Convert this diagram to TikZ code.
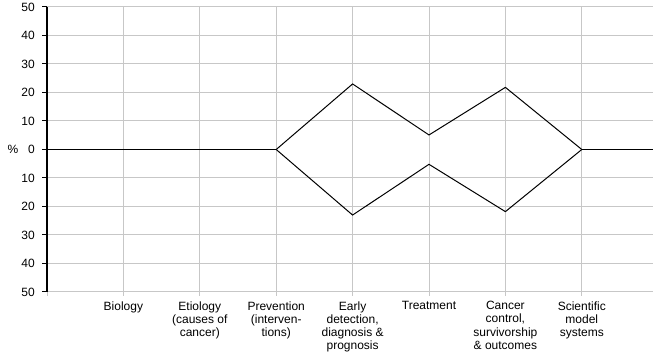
\documentclass[tikz,border=0pt]{standalone}
\usepackage{fontspec}
\setmainfont{Liberation Sans}

\begin{document}
\begin{tikzpicture}[x=76.4pt, y=2.85pt]

  \tikzset{GridLine/.style = {
  draw = black!22,
  line width = 1pt}}
  \tikzset{AxisLine/.style = {draw = black, line width = 1.2pt}}
  \tikzset{ZeroLine/.style = {draw = black, line width = 1.7pt}}
  \tikzset{DataLine/.style = {draw = black, line width = 1pt}}
  \tikzset{TickLabel/.style = {
  font = \fontsize{12}{13.3}\selectfont,
  inner sep = 0pt}}
  \tikzset{CatLabel/.style = {TickLabel, anchor = north, align = center}}

  \useasboundingbox (-0.6152,-72.456) rectangle (7.932,52.456);

  \begin{scope}
    \foreach \v in {10,20,...,50} {
      \draw[GridLine] (0,\v) -- (7.932,\v);
      \draw[GridLine] (0,-\v) -- (7.932,-\v);
    };
    \foreach \c in {0,...,7}
      \draw[GridLine] (\c,50) -- (\c,-51.4);
  \end{scope};

  \coordinate (AxTop) at (0,50);
  \coordinate (AxBot) at (0,-50);
  \draw[AxisLine] (AxTop) -- (AxBot);

  \foreach \i/\v/\t in {1/50/50,2/40/40,3/30/30,4/20/20,5/10/10,6/0/0,
                         7/-10/10,8/-20/20,9/-30/30,10/-40/40,11/-50/50} {
    \node[TickLabel, anchor = east] (Y\i) at (-0.157,\v) {\t};
    \draw[draw = black, line width = 1pt] (-0.065,\v) -- (0,\v);
  };
  \node[TickLabel] (Pct) at (-0.445,0) {\%};

  \coordinate (Z0) at (0,0);
  \coordinate (Z3) at (3,0);
  \coordinate (U4) at (4,23);
  \coordinate (U5) at (5,5.1);
  \coordinate (U6) at (6,21.8);
  \coordinate (Z7) at (7,0);
  \coordinate (L6) at (6,-21.8);
  \coordinate (L5) at (5,-5.2);
  \coordinate (L4) at (4,-23);
  \coordinate (Z8) at (7.932,0);

  \draw[ZeroLine] (Z0) -- (Z3);
  \draw[ZeroLine] (Z7) -- (Z8);
  \draw[DataLine] (Z3) -- (U4) -- (U5) -- (U6) -- (Z7);
  \draw[DataLine] (Z3) -- (L4) -- (L5) -- (L6) -- (Z7);

  \node[CatLabel] (Cat1) at (1,-53.2) {Biology};
  \node[CatLabel] (Cat2) at (2,-53.2) {Etiology\\(causes of\\cancer)};
  \node[CatLabel] (Cat3) at (3,-53.2) {Prevention\\(interven-\\tions)};
  \node[CatLabel] (Cat4) at (4,-53.2) {Early\\detection,\\diagnosis \&\\prognosis};
  \node[CatLabel] (Cat5) at (5,-53.2) {Treatment};
  \node[CatLabel] (Cat6) at (6,-53.2) {Cancer\\control,\\survivorship\\\& outcomes};
  \node[CatLabel] (Cat7) at (7,-53.2) {Scientific\\model\\systems};
\end{tikzpicture}
\end{document}
